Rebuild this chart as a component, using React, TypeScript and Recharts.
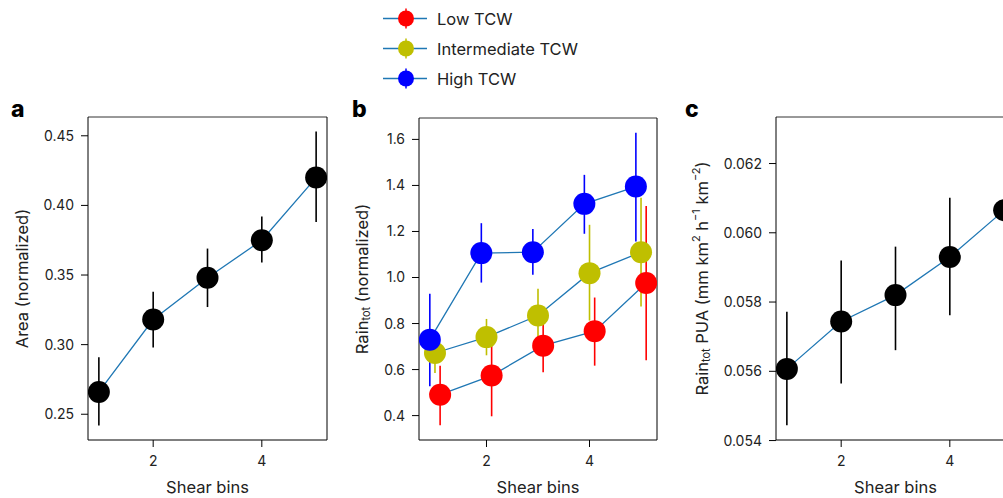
import React from 'react';
import { ScatterChart, Scatter, XAxis, YAxis, ErrorBar, Legend, ReferenceLine } from 'recharts';

const shearBins = [1, 2, 3, 4, 5];
const xTicks = [2, 4];

// panel a
const areaMean = [0.266, 0.318, 0.348, 0.375, 0.42];
const areaLow = [0.242, 0.298, 0.327, 0.359, 0.388];
const areaHigh = [0.291, 0.338, 0.369, 0.392, 0.453];
const areaTicks = [0.25, 0.3, 0.35, 0.4, 0.45];

// panel b
const tcwNames = ['Low TCW', 'Intermediate TCW', 'High TCW'];
const tcwColors = ['#ff0000', '#bfbf00', '#0000ff'];
const tcwShift = [0.1, 0, -0.1];
const rainLowMean = [0.491, 0.574, 0.704, 0.767, 0.976];
const rainLowLow = [0.358, 0.397, 0.588, 0.617, 0.64];
const rainLowHigh = [0.617, 0.744, 0.802, 0.913, 1.311];
const rainMidMean = [0.672, 0.741, 0.835, 1.019, 1.11];
const rainMidLow = [0.585, 0.662, 0.72, 0.813, 0.874];
const rainMidHigh = [0.76, 0.82, 0.951, 1.229, 1.347];
const rainHighMean = [0.73, 1.106, 1.11, 1.32, 1.395];
const rainHighLow = [0.527, 0.978, 1.012, 1.19, 1.156];
const rainHighHigh = [0.929, 1.236, 1.211, 1.446, 1.629];
const rainTicks = [0.4, 0.6, 0.8, 1.0, 1.2, 1.4, 1.6];

// panel c
const puaMean = [0.05607, 0.05744, 0.0582, 0.0593, 0.06065];
const puaLow = [0.05444, 0.05565, 0.05661, 0.05762, 0.05837];
const puaHigh = [0.05772, 0.0592, 0.0596, 0.06101, 0.06292];
const puaTicks = [0.054, 0.056, 0.058, 0.06, 0.062];

const LINE = '#1f77b4';
const INK = '#222';
const FONT = "Inter, 'Noto Sans', sans-serif";
const PLOT_BOTTOM = 440;

const toPoints = (mean: number[], lo: number[], hi: number[], shift = 0) =>
  shearBins.map((x, i) => ({ x: x + shift, y: mean[i], err: [mean[i] - lo[i], hi[i] - mean[i]] }));

type Series = { name: string; color: string; data: any[] };

const rainSeries: Series[] = [
  { name: tcwNames[0], color: tcwColors[0], data: toPoints(rainLowMean, rainLowLow, rainLowHigh, tcwShift[0]) },
  { name: tcwNames[1], color: tcwColors[1], data: toPoints(rainMidMean, rainMidLow, rainMidHigh, tcwShift[1]) },
  { name: tcwNames[2], color: tcwColors[2], data: toPoints(rainHighMean, rainHighLow, rainHighHigh, tcwShift[2]) },
];

const sub = (t: string) => (
  <tspan fontSize={11} dy={4}>{t}</tspan>
);

function LegendBox() {
  return (
    <svg width={220} height={90} style={{ display: 'block' }}>
      {rainSeries.map((s, i) => {
        const cy = 14.5 + i * 30;
        return (
          <g key={s.name}>
            <line x1={0} x2={44} y1={cy} y2={cy} stroke={LINE} strokeWidth={1.5} />
            <line x1={23} x2={23} y1={cy - 10} y2={cy + 10} stroke={s.color} strokeWidth={1.5} />
            <circle cx={23} cy={cy} r={8} fill={s.color} />
            <text x={54} y={cy} dominantBaseline="central" fontSize={16.5} fill={INK} fontFamily={FONT}>
              {s.name}
            </text>
          </g>
        );
      })}
    </svg>
  );
}

type PanelProps = {
  left: number;
  margin: { top: number; right: number; bottom: number; left: number };
  xDomain: [number, number];
  yDomain: [number, number];
  yTicks: number[];
  digits: number;
  yLabel: React.ReactNode;
  series: Series[];
  letter: string;
  legend?: boolean;
};

function Panel({ left, margin, xDomain, yDomain, yTicks, digits, yLabel, series, letter, legend }: PanelProps) {
  const cy = (margin.top + PLOT_BOTTOM) / 2;
  const cx = 22;
  return (
    <div style={{ position: 'absolute', left, top: 0 }}>
      <ScatterChart width={340} height={498} margin={margin}>
        <XAxis
          dataKey="x"
          type="number"
          domain={xDomain}
          ticks={xTicks}
          allowDataOverflow
          height={56}
          tickSize={7}
          tickMargin={9}
          tick={{ fill: INK, fontSize: 14 }}
          axisLine={{ stroke: '#000' }}
          tickLine={{ stroke: '#000' }}
          label={{ value: 'Shear bins', position: 'insideBottom', offset: 3, fill: INK, fontSize: 16.5 }}
        />
        <YAxis
          dataKey="y"
          type="number"
          domain={yDomain}
          ticks={yTicks}
          allowDataOverflow
          width={60}
          tickSize={7}
          tickMargin={7}
          tickFormatter={(v: number) => v.toFixed(digits)}
          tick={{ fill: INK, fontSize: 14 }}
          axisLine={{ stroke: '#000' }}
          tickLine={{ stroke: '#000' }}
          label={{
            content: () => (
              <text
                x={cx}
                y={cy}
                transform={`rotate(-90 ${cx} ${cy})`}
                textAnchor="middle"
                dominantBaseline="central"
                fontSize={16.5}
                fill={INK}
              >
                {yLabel}
              </text>
            ),
          }}
        />
        {/* top and right spines */}
        <ReferenceLine y={yDomain[1]} stroke="#333" strokeWidth={1} ifOverflow="visible" />
        <ReferenceLine x={xDomain[1]} stroke="#000" strokeWidth={1} ifOverflow="visible" />
        {series.map((s) => (
          <Scatter
            key={`track-${s.name}`}
            data={s.data}
            isAnimationActive={false}
            line={{ stroke: LINE, strokeWidth: 1.3 }}
            shape={() => <g />}
            legendType="none"
          >
            <ErrorBar dataKey="err" direction="y" width={0} stroke={s.color} strokeWidth={1.6} isAnimationActive={false} />
          </Scatter>
        ))}
        {series.map((s) => (
          <Scatter
            key={`mark-${s.name}`}
            data={s.data}
            isAnimationActive={false}
            legendType="none"
            shape={(p: any) => <circle cx={p.cx} cy={p.cy} r={11} fill={s.color} />}
          />
        ))}
        {legend && (
          <Legend
            layout="vertical"
            align="center"
            verticalAlign="middle"
            wrapperStyle={{ position: 'absolute', top: 4, left: 43, width: 220, height: 90 }}
            content={() => <LegendBox />}
          />
        )}
      </ScatterChart>
      <div
        style={{
          position: 'absolute',
          left: letter === 'a' ? 11 : letter === 'b' ? 12 : 5,
          top: 98,
          fontSize: 23,
          lineHeight: '23px',
          fontWeight: 800,
          color: '#000',
        }}
      >
        {letter}
      </div>
    </div>
  );
}

export default function App() {
  const blackArea: Series[] = [{ name: 'Area', color: '#000', data: toPoints(areaMean, areaLow, areaHigh) }];
  const blackPua: Series[] = [{ name: 'PUA', color: '#000', data: toPoints(puaMean, puaLow, puaHigh) }];
  return (
    <div
      style={{
        position: 'fixed',
        left: 0,
        top: 0,
        width: 1003,
        height: 498,
        overflow: 'hidden',
        background: '#fff',
        fontFamily: FONT,
      }}
    >
      <Panel
        left={0}
        margin={{ top: 117, right: 13, bottom: 2, left: 28 }}
        xDomain={[0.8, 5.2]}
        yDomain={[0.2315, 0.4635]}
        yTicks={areaTicks}
        digits={2}
        yLabel="Area (normalized)"
        series={blackArea}
        letter="a"
      />
      <Panel
        left={340}
        margin={{ top: 118, right: 23, bottom: 2, left: 19 }}
        xDomain={[0.69, 5.31]}
        yDomain={[0.294, 1.693]}
        yTicks={rainTicks}
        digits={1}
        yLabel={
          <>
            Rain{sub('tot')}
            <tspan dy={-4}> (normalized)</tspan>
          </>
        }
        series={rainSeries}
        letter="b"
        legend
      />
      <Panel
        left={680}
        margin={{ top: 117, right: 5, bottom: 2, left: 36 }}
        xDomain={[0.8, 5.2]}
        yDomain={[0.054016, 0.063344]}
        yTicks={puaTicks}
        digits={3}
        yLabel={
          <>
            Rain{sub('tot')}
            <tspan dy={-4}> PUA (mm km</tspan>
            <tspan fontSize={11} dy={-6}>2</tspan>
            <tspan dy={6}> h</tspan>
            <tspan fontSize={11} dy={-6}>−1</tspan>
            <tspan dy={6}> km</tspan>
            <tspan fontSize={11} dy={-6}>−2</tspan>
            <tspan dy={6}>)</tspan>
          </>
        }
        series={blackPua}
        letter="c"
      />
    </div>
  );
}
